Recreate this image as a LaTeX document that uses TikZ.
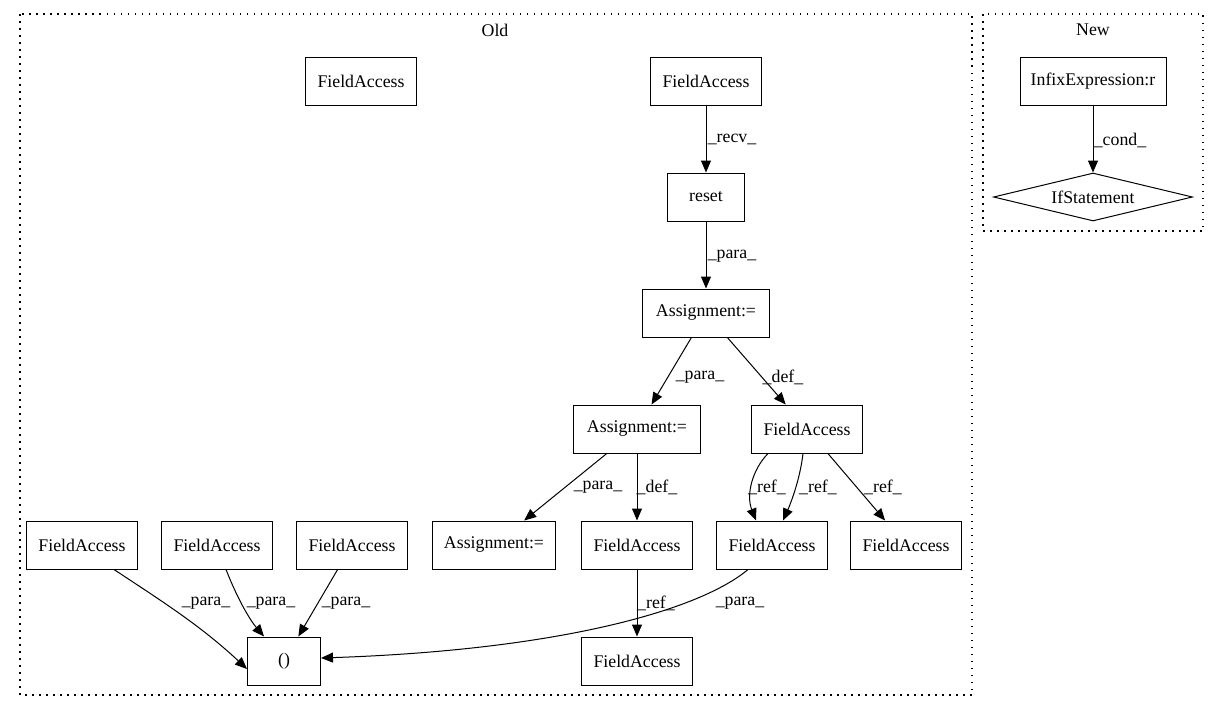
\documentclass[tikz,border=0pt]{standalone}
\usepackage{fontspec}
\setmainfont{Liberation Serif}
\usetikzlibrary{arrows.meta,shapes.geometric}
\begin{document}
\begin{tikzpicture}[x=1pt,y=-1pt,
  every node/.style={font=\fontsize{17.8}{20}\selectfont},
  box/.style={draw,line width=1pt,minimum height=48pt,inner sep=0pt},
  fa/.style={box,minimum width=111pt},
  asg/.style={box,minimum width=127pt},
  lbl/.style={inner sep=0pt},
  arr/.style={line width=1pt,-{Triangle[length=12pt,width=10pt]}},
  cluster/.style={line width=1.2pt,dash pattern=on 1.5pt off 5.5pt}]
\useasboundingbox (0,0) rectangle (1219,712);
% clusters
\draw[cluster] (20,14) rectangle (972,695);
\node at (495,30) {Old};
\draw[cluster] (983,14) rectangle (1203,231);
\node at (1093,30) {New};
% Old nodes
\node[fa] (fatl) at (361,81) {FieldAccess};
\node[fa] (fatop) at (706,81) {FieldAccess};
\node[box,minimum width=77pt] (reset) at (706,197) {reset};
\node[asg] (a1) at (706,313) {Assignment:=};
\node[asg] (a2) at (637,429) {Assignment:=};
\node[fa] (famid) at (807,429) {FieldAccess};
\node[asg,minimum width=123pt] (a3) at (494,545) {Assignment:=};
\node[fa] (fadef) at (637,545) {FieldAccess};
\node[fa] (ref2) at (772,545) {FieldAccess};
\node[fa] (ref3) at (906,545) {FieldAccess};
\node[fa] (fabot) at (637,661) {FieldAccess};
\node[fa] (fl1) at (82,545) {FieldAccess};
\node[fa] (fl2) at (217,545) {FieldAccess};
\node[fa] (fl3) at (352,545) {FieldAccess};
\node[box,minimum width=73pt] (par) at (284,661) {()};
% New nodes
\node[box,minimum width=146pt] (infix) at (1093,81) {InfixExpression:r};
\node[draw,line width=1pt,diamond,aspect=4,minimum width=199pt,minimum height=48pt,inner sep=0pt] (ifs) at (1093,197) {IfStatement};
% edges
\draw[arr] (fatop) -- (reset) node[lbl] at (732,139) {\_recv\_};
\draw[arr] (reset) -- (a1) node[lbl] at (732,256) {\_para\_};
\draw[arr] (a1) -- (a2) node[lbl] at (700,377) {\_para\_};
\draw[arr] (a1) -- (famid) node[lbl] at (783,377) {\_def\_};
\draw[arr] (a2) -- (a3) node[lbl] at (598,487) {\_para\_};
\draw[arr] (a2) -- (fadef) node[lbl] at (657,487) {\_def\_};
\draw[arr] ([xshift=-39pt]famid.south) .. controls (752,470) and (746,495) .. ([xshift=-16pt]ref2.north) node[lbl] at (767,487) {\_ref\_};
\draw[arr] ([xshift=-4pt]famid.south) .. controls (800,480) and (790,505) .. ([xshift=11pt]ref2.north) node[lbl] at (818,487) {\_ref\_};
\draw[arr] (famid) -- (ref3) node[lbl] at (883,487) {\_ref\_};
\draw[arr] (fadef) -- (fabot) node[lbl] at (656,603) {\_ref\_};
\draw[arr] ([xshift=-24pt]ref2.south) .. controls (700,610) and (560,650) .. ([yshift=3pt]par.east) node[lbl] at (740,603) {\_para\_};
\draw[arr] ([xshift=32pt]fl1.south) .. controls (160,600) and (200,625) .. ([yshift=-8pt]par.west) node[lbl] at (206,603) {\_para\_};
\draw[arr] ([xshift=9pt]fl2.south) .. controls (238,600) and (250,620) .. ([xshift=-20pt]par.north) node[lbl] at (271,603) {\_para\_};
\draw[arr] (fl3) -- (par) node[lbl] at (346,603) {\_para\_};
\draw[arr] (infix) -- (ifs) node[lbl] at (1120,140) {\_cond\_};
\end{tikzpicture}
\end{document}
